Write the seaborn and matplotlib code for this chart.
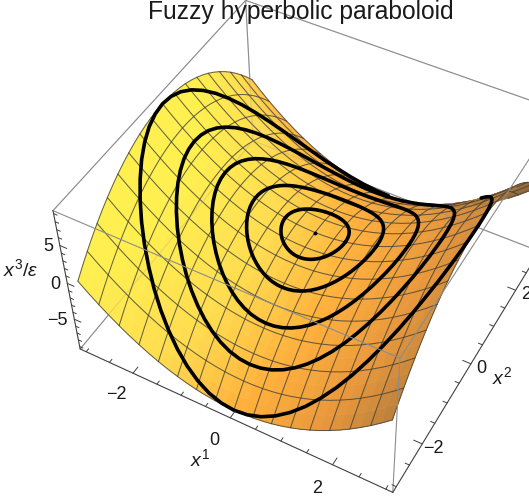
import numpy as np
import seaborn as sns
import matplotlib
matplotlib.use("Agg")
import matplotlib.pyplot as plt
from mpl_toolkits.mplot3d import proj3d

# grid, mesh sits on every second node
x1_nodes = [-3.0, -2.8125, -2.625, -2.4375, -2.25, -2.0625, -1.875, -1.6875, -1.5, -1.3125, -1.125,
            -0.9375, -0.75, -0.5625, -0.375, -0.1875, 0.0, 0.1875, 0.375, 0.5625, 0.75, 0.9375,
            1.125, 1.3125, 1.5, 1.6875, 1.875, 2.0625, 2.25, 2.4375, 2.625, 2.8125, 3.0]
x2_nodes = list(x1_nodes)
height_along_x1 = [9.0, 7.91, 6.89, 5.94, 5.06, 4.25, 3.52, 2.85, 2.25, 1.72, 1.27, 0.88, 0.56, 0.32, 0.14, 0.04, 0.0,
                   0.04, 0.14, 0.32, 0.56, 0.88, 1.27, 1.72, 2.25, 2.85, 3.52, 4.25, 5.06, 5.94, 6.89, 7.91, 9.0]
height_along_x2 = [-9.0, -7.91, -6.89, -5.94, -5.06, -4.25, -3.52, -2.85, -2.25, -1.72, -1.27, -0.88, -0.56, -0.32, -0.14, -0.04, 0.0,
                   -0.04, -0.14, -0.32, -0.56, -0.88, -1.27, -1.72, -2.25, -2.85, -3.52, -4.25, -5.06, -5.94, -6.89, -7.91, -9.0]

# rings on the surface: one quarter of the unit ring every 5 degrees, scaled by radius
ring_radii = [0.6, 1.2, 1.8, 2.4, 3.0]
quarter_x1 = [1.0, 0.996, 0.985, 0.966, 0.94, 0.906, 0.866, 0.819, 0.766, 0.707, 0.643, 0.574, 0.5, 0.423, 0.342, 0.259, 0.174, 0.087, 0.0]
quarter_x2 = [0.0, 0.087, 0.174, 0.259, 0.342, 0.423, 0.5, 0.574, 0.643, 0.707, 0.766, 0.819, 0.866, 0.906, 0.94, 0.966, 0.985, 0.996, 1.0]
quarter_z = [1.0, 0.985, 0.94, 0.866, 0.766, 0.643, 0.5, 0.342, 0.174, 0.0, -0.174, -0.342, -0.5, -0.643, -0.766, -0.866, -0.94, -0.985, -1.0]

x1_ticks = [-3.0, -2.5, -2.0, -1.5, -1.0, -0.5, 0.0, 0.5, 1.0, 1.5, 2.0, 2.5, 3.0]
x2_ticks = list(x1_ticks)
z_ticks = [-9, -8, -7, -6, -5, -4, -3, -2, -1, 0, 1, 2, 3, 4, 5, 6, 7, 8, 9]
x1_labels = [-2, 0, 2]
x2_labels = [-2, 0, 2]
z_labels = [-5, 0, 5]

lim = 3.13
zlim = 9.36

sns.set_style("white")
plt.rcParams['font.family'] = ['Liberation Sans', 'DejaVu Sans']
plt.rcParams['mathtext.fontset'] = 'custom'
plt.rcParams['mathtext.rm'] = 'Liberation Sans'
plt.rcParams['mathtext.it'] = 'Liberation Sans:italic'

fig = plt.figure(figsize=(5.29, 5.04), dpi=100)
# axes far bigger than the figure so nothing gets clipped at the axes box
ax = fig.add_axes([-0.225, -0.283, 1.6, 1.6], projection='3d')
ax.computed_zorder = False
ax.set_axis_off()
ax.set_xticks([])
ax.set_yticks([])
ax.set_zticks([])
ax.set_xlim(-lim, lim, view_margin=0)
ax.set_ylim(-lim, lim, view_margin=0)
ax.set_zlim(-zlim, zlim, view_margin=0)
ax.set_box_aspect((1, 0.97, 0.575), zoom=0.65)
ax.view_init(elev=47.5, azim=-60.5, roll=0.7)
ax.set_proj_type('persp', focal_length=0.35)

X1, X2 = np.meshgrid(x1_nodes, x2_nodes)
Z = np.add.outer(height_along_x2, height_along_x1)

# colouring stands in for the lighting of the original
shade = 0.32 + 0.125 * X1 + 0.05 * X2 + 0.025 * X2 ** 2
cmap = sns.blend_palette(["#fff050", "#ffdc50", "#ffb03c", "#e8983c", "#b07a3c", "#8c6438"], as_cmap=True)
ax.plot_surface(X1, X2, Z, facecolors=cmap(np.clip(shade, 0, 1)), rstride=1, cstride=1,
                linewidth=0.4, shade=False, zorder=2)

# depth buffer so lines behind the fold get dimmed
M = ax.get_proj()
fine = np.linspace(-3, 3, 500)
fz = np.add.outer(np.interp(fine, x2_nodes, height_along_x2), np.interp(fine, x1_nodes, height_along_x1))
fx1, fx2 = np.meshgrid(fine, fine)
sx, sy, sd = proj3d.proj_transform(fx1.ravel(), fx2.ravel(), fz.ravel(), M)
bins = 0.0006
size = int(0.6 / bins)
buf = np.full((size, size), np.inf)
np.minimum.at(buf, (np.clip(((sx + 0.3) / bins).astype(int), 0, size - 1),
                    np.clip(((sy + 0.3) / bins).astype(int), 0, size - 1)), sd)


def split_back(xs, ys, zs):
    # split a line on the surface in the part you see and the part that is covered
    xs, ys, zs = np.asarray(xs, float), np.asarray(ys, float), np.asarray(zs, float)
    px, py, pd = proj3d.proj_transform(xs, ys, zs, M)
    jx = np.clip(((px + 0.3) / bins).astype(int), 0, size - 1)
    jy = np.clip(((py + 0.3) / bins).astype(int), 0, size - 1)
    covered = pd > buf[jx, jy] + 0.08
    front = zs.copy()
    front[covered] = np.nan
    back = zs.copy()
    back[~covered] = np.nan
    return (xs, ys, front), (xs, ys, back)


mesh_color = (0.25, 0.25, 0.22, 0.8)
back_color = (0.25, 0.25, 0.22, 0.18)
for i in range(0, 33, 2):
    for line in (split_back(np.full(33, x1_nodes[i]), x2_nodes, Z[:, i]),
                 split_back(x1_nodes, np.full(33, x2_nodes[i]), Z[i, :])):
        ax.plot(*line[0], color=mesh_color, lw=0.75, zorder=3)
        ax.plot(*line[1], color=back_color, lw=0.75, zorder=3)

q1, q2, qz = np.array(quarter_x1), np.array(quarter_x2), np.array(quarter_z)
ring_x1 = np.concatenate([q1, -q1[::-1][1:], -q1[1:], q1[::-1][1:]])
ring_x2 = np.concatenate([q2, q2[::-1][1:], -q2[1:], -q2[::-1][1:]])
ring_z = np.concatenate([qz, qz[::-1][1:], qz[1:], qz[::-1][1:]])
for r in ring_radii:
    ax.plot(*split_back(r * ring_x1, r * ring_x2, r ** 2 * ring_z)[0],
            color='black', lw=2.6, zorder=4, solid_capstyle='round', solid_joinstyle='round')
ax.plot([0], [0], [0], 'o', color='black', ms=1.8, zorder=5)

# frame: back edges show faintly through the surface, front edges lie over it
grey = '#8c8c8c'
for a, b, c in [((-lim, lim), (lim, lim), (-zlim, -zlim)), ((-lim, -lim), (-lim, lim), (-zlim, -zlim)),
                ((-lim, -lim), (lim, lim), (-zlim, zlim)), ((-lim, lim), (lim, lim), (zlim, zlim)),
                ((-lim, -lim), (-lim, lim), (zlim, zlim)), ((lim, lim), (lim, lim), (-zlim, zlim))]:
    ax.plot(a, b, c, color=grey, lw=0.8, zorder=1)
    ax.plot(a, b, c, color=grey, lw=0.8, alpha=0.22, zorder=3)
for a, b, c in [((-lim, lim), (-lim, -lim), (zlim, zlim)), ((lim, lim), (-lim, lim), (zlim, zlim)),
                ((lim, lim), (-lim, -lim), (-zlim, zlim))]:
    ax.plot(a, b, c, color=grey, lw=0.8, zorder=6)
for a, b, c in [((-lim, lim), (-lim, -lim), (-zlim, -zlim)), ((lim, lim), (-lim, lim), (-zlim, -zlim)),
                ((-lim, -lim), (-lim, -lim), (-zlim, zlim))]:
    ax.plot(a, b, c, color='#404040', lw=0.8, zorder=6)

# ticks run inwards from the three axes
for t in x1_ticks:
    n = 0.16 if t in x1_labels else 0.08
    ax.plot((t, t), (-lim, -lim + n), (-zlim, -zlim), color='#404040', lw=0.7, zorder=6)
for t in x2_ticks:
    n = 0.16 if t in x2_labels else 0.08
    ax.plot((lim, lim - n), (t, t), (-zlim, -zlim), color='#404040', lw=0.7, zorder=6)
for t in z_ticks:
    n = 0.14 if t in z_labels else 0.07
    ax.plot((-lim, -lim + n), (-lim, -lim), (t, t), color='#404040', lw=0.7, zorder=6)

for t in x1_labels:
    ax.text(t, -lim - 0.55, -zlim, str(t).replace('-', '\u2212'), ha='center', va='center', fontsize=13, color='#1a1a1a')
for t in x2_labels:
    ax.text(lim + 0.2, t, -zlim, str(t).replace('-', '\u2212'), ha='center', va='center', fontsize=13, color='#1a1a1a')
for t in z_labels:
    ax.text(-lim - 0.08, -lim - 0.08, t, str(t).replace('-', '\u2212'), ha='right', va='center', fontsize=13, color='#1a1a1a')
ax.text(0.0, -lim - 1.0, -zlim, '$x^1$', ha='center', va='center', fontsize=14, color='#1a1a1a')
ax.text(lim + 0.6, 0.0, -zlim, '$x^2$', ha='center', va='center', fontsize=14, color='#1a1a1a')
ax.text(-lim - 0.5, -lim - 0.5, 3.0, r'$x^3/\epsilon$', ha='center', va='center', fontsize=14, color='#1a1a1a')

fig.text(301 / 529, 1 - 12 / 504, 'Fuzzy hyperbolic paraboloid', ha='center', va='center', fontsize=17.7, color='#1a1a1a')

fig.savefig('out.png', dpi=100)
